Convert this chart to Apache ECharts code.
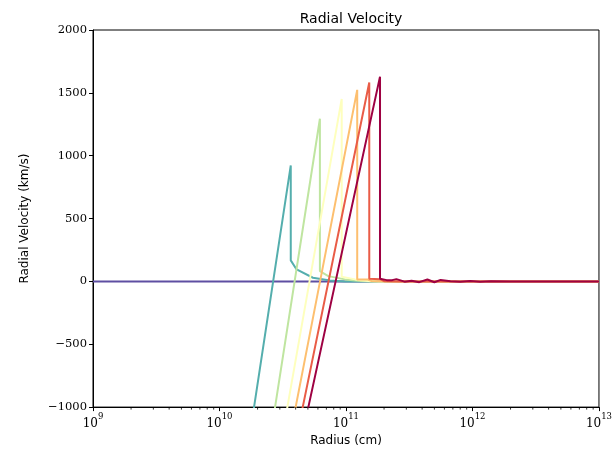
<!DOCTYPE html>
<html>
<head>
<meta charset="utf-8">
<script src="https://cdn.jsdelivr.net/npm/echarts@6/dist/echarts.min.js"></script>
<style>
  html, body { margin: 0; padding: 0; background: #fff; }
  #main { width: 615px; height: 452px; }
</style>
</head>
<body>
<div id="main"></div>
<script>
// radius in cm, velocity in km/s, one snapshot per array
var colors = ['#5e4fa2', '#54aead', '#bfe5a0', '#feffbe', '#fdbf6f', '#e95c47', '#9e0142'];

var snap0 = [[1e9, 0], [1e13, 0]];
var snap1 = [[1.63e10, -1400], [1.876e10, -1000], [3.66e10, 923], [3.66e10, 167], [4.07e10, 95],
             [5.48e10, 29], [7.48e10, 8], [9.8e10, 0], [1e13, 0]];
var snap2 = [[2.38e10, -1400], [2.75e10, -1000], [6.22e10, 1294], [6.22e10, 82], [7.25e10, 42],
             [9.8e10, 16], [1.3e11, 3], [1.6e11, 0], [1e13, 0]];
var snap3 = [[2.92e10, -1400], [3.44e10, -1000], [9.25e10, 1452], [9.25e10, 37], [1.18e11, 16],
             [1.5e11, 4], [1.9e11, 0], [1e13, 0]];
var snap4 = [[3.35e10, -1400], [4.0e10, -1000], [1.227e11, 1524], [1.227e11, 16], [1.49e11, 15],
             [1.6e11, 3], [2.2e11, 0], [1e13, 0]];
var snap5 = [[3.77e10, -1400], [4.55e10, -1000], [1.528e11, 1582], [1.528e11, 21], [1.86e11, 18],
             [2.0e11, 2], [2.6e11, 0], [1e13, 0]];
var snap6 = [[4.13e10, -1400], [5.04e10, -1000], [1.858e11, 1629], [1.858e11, 21], [2.1e11, 10],
             [2.32e11, 10], [2.5e11, 18], [2.7e11, 8], [2.9e11, -2], [3.3e11, 5], [3.8e11, -6],
             [4.4e11, 15], [5.0e11, -7], [5.6e11, 12], [6.7e11, 2], [8.0e11, -3], [9.6e11, 4],
             [1.15e12, -2], [1.4e12, 2], [2.0e12, 0], [1e13, 0]];
var snapshots = [snap0, snap1, snap2, snap3, snap4, snap5, snap6];

var decades = [1e9, 1e10, 1e11, 1e12, 1e13];
var minorTicks = [];
for (var d = 0; d < 4; d++) {
    for (var m = 2; m <= 9; m++) minorTicks.push(decades[d] * m);
}

var myChart = echarts.init(document.getElementById('main'));

var series = snapshots.map(function (s, i) {
    return {
        type: 'line',
        data: s,
        showSymbol: false,
        symbol: 'none',
        lineStyle: {color: colors[i], width: 2},
        z: 2 + i,
        clip: true,
        animation: false
    };
});

// log minor ticks at 2..9 x 10^n along the bottom
series.push({
    type: 'custom',
    data: minorTicks.map(function (v) { return [v, -1000]; }),
    clip: false,
    silent: true,
    animation: false,
    z: 20,
    renderItem: function (params, api) {
        var p = api.coord([api.value(0), -1000]);
        return {
            type: 'line',
            shape: {x1: p[0], y1: p[1], x2: p[0], y2: p[1] + 2.5},
            style: {stroke: '#000', lineWidth: 0.8}
        };
    }
});

myChart.setOption({
    animation: false,
    title: {
        text: 'Radial Velocity',
        left: 346, top: 7, textAlign: 'center',
        textStyle: {fontFamily: 'DejaVu Sans', fontSize: 14, fontWeight: 'normal', color: '#000'}
    },
    grid: {left: 93, right: 16, top: 30, bottom: 44, show: true, borderColor: '#000', borderWidth: 1},
    xAxis: {
        type: 'log',
        min: 1e9, max: 1e13,
        logBase: 10,
        name: 'Radius (cm)',
        nameLocation: 'middle',
        nameGap: 27,
        nameTextStyle: {fontFamily: 'DejaVu Sans', fontSize: 12, color: '#000'},
        axisLine: {onZero: false, lineStyle: {color: '#000', width: 1}},
        axisTick: {show: true, length: 4, lineStyle: {color: '#000'}},
        splitLine: {show: false},
        axisLabel: {
            margin: 5,
            formatter: function (v) {
                var e = Math.round(Math.log10(v));
                return '{b|10}{s|' + e + '}';
            },
            rich: {
                b: {fontFamily: 'DejaVu Serif', fontSize: 12, color: '#000', padding: [6, 0, 0, 0]},
                s: {fontFamily: 'DejaVu Serif', fontSize: 8.5, color: '#000', verticalAlign: 'top', padding: [0, 0, 0, 0]}
            }
        }
    },
    yAxis: {
        type: 'value',
        min: -1000, max: 2000, interval: 500,
        name: 'Radial Velocity (km/s)',
        nameLocation: 'middle',
        nameGap: 62,
        nameTextStyle: {fontFamily: 'DejaVu Sans', fontSize: 12, color: '#000'},
        axisLine: {show: true, onZero: false, lineStyle: {color: '#000', width: 1}},
        axisTick: {show: true, length: 4, lineStyle: {color: '#000'}},
        splitLine: {show: false},
        axisLabel: {
            margin: 6,
            fontFamily: 'DejaVu Serif', fontSize: 11.5, color: '#000',
            formatter: function (v) { return String(v).replace('-', '\u2212'); }
        }
    },
    series: series
});
</script>
</body>
</html>
